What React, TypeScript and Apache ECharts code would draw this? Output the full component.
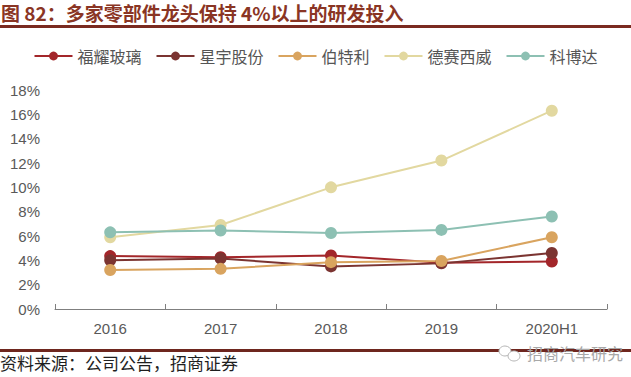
import React, { useEffect, useRef } from "react";
import * as echarts from "echarts";

const categories = ["2016", "2017", "2018", "2019", "2020H1"];
const seriesNames = ["福耀玻璃", "星宇股份", "伯特利", "德赛西威", "科博达"];
const fuyao = [4.35, 4.25, 4.4, 3.8, 3.9];
const xingyu = [4.0, 4.15, 3.5, 3.75, 4.6];
const bethel = [3.2, 3.3, 3.85, 3.95, 5.9];
const desay = [5.9, 6.9, 10.0, 12.2, 16.3];
const keboda = [6.3, 6.45, 6.25, 6.5, 7.6];
const colors = ["#A3262A", "#7B3431", "#D9A45F", "#E2D8A0", "#8DC0B3"];
const yTicks = { min: 0, max: 18, interval: 2 };
const titleText = "图 82：多家零部件龙头保持 4%以上的研发投入";
const sourceText = "资料来源：公司公告，招商证券";
const watermark = "招商汽车研究";

export default function App() {
  const ref = useRef<HTMLDivElement>(null);
  useEffect(() => {
    const chart = echarts.init(ref.current!, undefined, { renderer: "svg" });
    const data = [fuyao, xingyu, bethel, desay, keboda];
    chart.setOption({
      animation: false,
      backgroundColor: "#ffffff",
      color: colors,
      textStyle: { fontFamily: "Arial, 'Liberation Sans', 'Noto Sans CJK SC', sans-serif" },
      graphic: [
        {
          type: "text",
          left: 1,
          top: 3,
          style: {
            text: titleText,
            fill: "#8A3524",
            font: "bold 19px 'Noto Sans CJK SC', sans-serif",
          },
        },
        {
          type: "rect",
          shape: { x: 0, y: 25, width: 631, height: 3 },
          style: { fill: "#7A2A20" },
        },
        {
          type: "rect",
          shape: { x: 0, y: 349, width: 631, height: 3 },
          style: { fill: "#6E261E" },
        },
        {
          type: "text",
          left: 0,
          top: 354,
          style: {
            text: sourceText,
            fill: "#1e1e1e",
            font: "17px 'Noto Sans CJK SC', sans-serif",
          },
        },
        {
          type: "ellipse",
          shape: { cx: 505, cy: 351, rx: 6, ry: 5 },
          style: { fill: "#ffffff", stroke: "#b5b5b5", lineWidth: 1 },
        },
        {
          type: "ellipse",
          shape: { cx: 514, cy: 356, rx: 6, ry: 5 },
          style: { fill: "#ffffff", stroke: "#b5b5b5", lineWidth: 1 },
        },
        {
          type: "text",
          left: 527,
          top: 345,
          style: {
            text: watermark,
            fill: "#a8a8a8",
            font: "16px 'Noto Sans CJK SC', sans-serif",
          },
        },
      ],
      legend: {
        top: 43,
        left: "center",
        itemWidth: 38,
        itemHeight: 11,
        itemGap: 14,
        textStyle: { fontSize: 16, color: "#555555", fontFamily: "'Noto Sans CJK SC', sans-serif" },
        data: seriesNames,
      },
      grid: { left: 55, right: 24, top: 90, bottom: 68 },
      xAxis: {
        type: "category",
        data: categories,
        boundaryGap: true,
        axisLine: { lineStyle: { color: "#7f7f7f", width: 1 } },
        axisTick: { show: true, inside: true, length: 5, lineStyle: { color: "#7f7f7f" } },
        axisLabel: { color: "#595959", fontSize: 15, margin: 12 },
      },
      yAxis: {
        type: "value",
        min: yTicks.min,
        max: yTicks.max,
        interval: yTicks.interval,
        axisLine: { show: false },
        axisTick: { show: false },
        splitLine: { show: false },
        axisLabel: { color: "#595959", fontSize: 15, margin: 15, formatter: "{value}%" },
      },
      series: seriesNames.map((name, i) => ({
        name,
        type: "line",
        data: data[i],
        symbol: "circle",
        symbolSize: 12,
        lineStyle: { width: 2, color: colors[i] },
        itemStyle: { color: colors[i] },
      })),
    });
    return () => chart.dispose();
  }, []);
  return (
    <div
      ref={ref}
      style={{ position: "absolute", left: 0, top: 0, width: 631, height: 377 }}
    />
  );
}
